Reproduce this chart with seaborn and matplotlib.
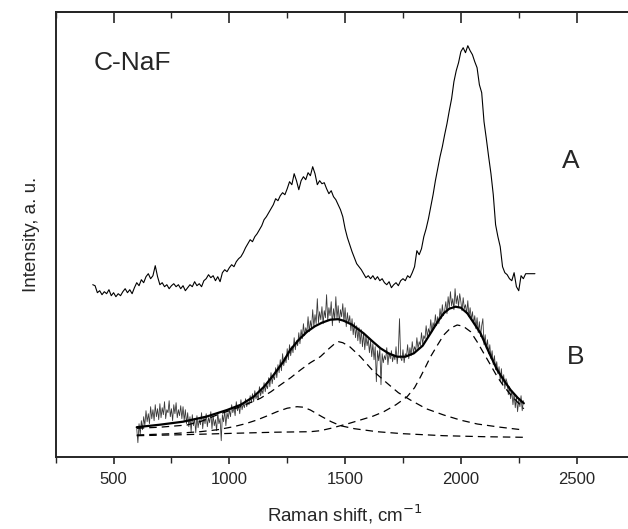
import matplotlib
matplotlib.use("Agg")
import matplotlib.pyplot as plt
import seaborn as sns
import numpy as np

# ---- Spectrum A (raw, offset upward), 410..2320 cm-1 step 10 ----
a_shift = list(range(410, 2330, 10))
a_int = [172, 171, 164, 166, 162, 165, 163, 167, 161, 164,
         160, 163, 161, 165, 168, 164, 167, 163, 169, 174,
         171, 177, 174, 180, 183, 178, 181, 191, 180, 172,
         174, 170, 172, 168, 171, 173, 170, 172, 168, 171,
         166, 169, 172, 170, 175, 171, 173, 170, 176, 178,
         182, 179, 181, 176, 180, 175, 184, 187, 185, 189,
         192, 190, 195, 198, 200, 204, 209, 213, 217, 215,
         220, 223, 227, 231, 237, 240, 244, 248, 252, 258,
         256, 261, 264, 262, 268, 275, 272, 283, 276, 267,
         276, 280, 277, 284, 281, 290, 283, 272, 276, 273,
         274, 268, 263, 266, 260, 257, 252, 247, 240, 228,
         219, 212, 205, 199, 193, 190, 187, 183, 179, 181,
         178, 181, 177, 180, 176, 178, 174, 172, 175, 169,
         172, 174, 171, 176, 178, 176, 181, 179, 184, 190,
         206, 202, 208, 220, 228, 238, 250, 262, 276, 288,
         300, 310, 322, 333, 346, 358, 375, 386, 394, 405,
         409, 404, 411, 406, 402, 395, 389, 372, 364, 335,
         318, 300, 283, 262, 232, 220, 210, 190, 184, 182,
         178, 176, 184, 170, 166, 181, 178, 183, 183, 183,
         183, 183]

# ---- Spectrum B (raw), 600..2270 cm-1 step 5 ----
b_shift = list(range(600, 2275, 5))
b_int = [28, 14, 33, 22, 36, 27, 40, 31, 46, 35, 43, 33, 50, 38, 47, 36, 52, 40, 48, 37,
         53, 39, 49, 42, 55, 38, 47, 44, 56, 40, 48, 36, 52, 43, 54, 39, 47, 41, 51, 38,
         50, 36, 47, 33, 44, 30, 40, 25, 42, 31, 38, 24, 41, 29, 37, 32, 44, 28, 40, 33,
         43, 30, 39, 34, 45, 28, 41, 31, 37, 26, 44, 33, 38, 16, 42, 35, 46, 31, 44, 38,
         47, 40, 52, 44, 49, 41, 55, 46, 51, 43, 57, 47, 53, 49, 58, 50, 55, 52, 61, 54,
         63, 55, 66, 58, 62, 57, 70, 61, 67, 63, 74, 65, 72, 68, 79, 70, 84, 73, 81, 77,
         89, 79, 92, 84, 97, 86, 103, 91, 99, 94, 108, 97, 112, 101, 110, 104, 119, 107, 116, 111,
         124, 113, 127, 118, 133, 121, 129, 124, 140, 125, 136, 128, 147, 130, 142, 133, 158, 134, 145, 137,
         150, 133, 146, 139, 162, 136, 149, 141, 155, 131, 148, 137, 160, 138, 151, 134, 147, 140, 153, 135,
         149, 130, 144, 133, 141, 126, 138, 122, 134, 119, 131, 116, 129, 113, 127, 110, 124, 107, 121, 111,
         118, 104, 116, 100, 113, 97, 110, 75, 106, 96, 108, 72, 103, 94, 101, 97, 109, 92, 104, 98,
         106, 95, 102, 97, 110, 93, 105, 138, 99, 96, 107, 94, 103, 100, 112, 98, 109, 101, 115, 104,
         110, 106, 119, 108, 115, 111, 124, 113, 121, 118, 131, 120, 128, 123, 137, 125, 134, 129, 142, 131,
         140, 133, 148, 138, 152, 141, 146, 155, 143, 160, 149, 165, 151, 158, 147, 168, 153, 161, 150, 163,
         155, 146, 159, 148, 152, 143, 156, 140, 149, 137, 145, 133, 141, 128, 139, 124, 135, 120, 131, 138,
         112, 122, 108, 117, 103, 112, 98, 106, 92, 101, 87, 95, 83, 90, 76, 88, 72, 82, 68, 78,
         74, 62, 70, 58, 66, 52, 63, 49, 60, 45, 57, 50, 61, 46, 56]

# ---- Fit (solid) ----
fit_shift = [600, 700, 800, 900, 990, 1050, 1105, 1150, 1191, 1230, 1263, 1300, 1336,
             1370, 1400, 1436, 1470, 1494, 1530, 1580, 1620, 1653, 1690, 1725, 1760,
             1797, 1835, 1869, 1900, 1926, 1950, 1977, 2000, 2028, 2055, 2085, 2120,
             2157, 2190, 2215, 2245, 2272]
fit_int = [29.5, 32, 35, 40, 46.7, 52, 60, 70, 81.7, 94, 106.7, 117, 125,
           130.5, 134, 137, 137.5, 136, 132, 123.4, 115, 108.4, 103, 100, 100,
           103.4, 111, 123.4, 135, 143.4, 148, 150, 149, 143.4, 134, 123.4, 105,
           86.7, 75, 66.7, 59, 53.4]

# ---- Components (dashed) ----
c1_shift = [600, 700, 817, 880, 946, 1000, 1047, 1090, 1134, 1180, 1220, 1265, 1307,
            1350, 1393, 1430, 1455, 1472, 1490, 1520, 1566, 1620, 1682, 1730, 1782,
            1850, 1926, 2000, 2071, 2170, 2272]
c1_int = [28.4, 29.5, 31.7, 35.5, 41.7, 46, 50, 54, 58.4, 65, 71.7, 79, 86.7,
          94, 100, 108, 113, 115, 114, 110, 100, 86, 73.4, 64, 56.7,
          48, 41.7, 36.5, 32.7, 29.5, 26.7]

c2_shift = [600, 750, 874, 950, 1018, 1070, 1119, 1160, 1206, 1250, 1292, 1320, 1350,
            1400, 1440, 1480, 1540, 1638, 1750, 1926, 2100, 2272]
c2_int = [21.7, 23, 25, 27, 30, 33, 36.7, 40.5, 45, 48.5, 50, 49.5, 46.7,
          40, 35, 31, 28, 25, 23, 21, 20, 19.4]

c3_shift = [600, 800, 1018, 1200, 1350, 1393, 1440, 1480, 1520, 1566, 1620, 1667, 1720,
            1768, 1800, 1826, 1850, 1869, 1900, 1926, 1955, 1984, 2010, 2042, 2070,
            2099, 2130, 2157, 2185, 2215, 2245, 2272]
c3_int = [21, 22, 23.4, 24.5, 25, 26, 28.5, 31, 33.5, 36.7, 40.5, 45, 52,
          60, 69, 80, 91, 100, 112, 121.7, 128.5, 131.7, 130.5, 125, 115,
          103.4, 91, 80, 70.5, 62, 54.5, 48]

sns.set_style("ticks")
plt.rcParams["font.family"] = ["Liberation Sans", "DejaVu Sans"]

fig = plt.figure(figsize=(6.28, 5.29), dpi=100)
ax = fig.add_axes([55.7 / 628, 1 - 456.7 / 529, (634.5 - 55.7) / 628, 445 / 529])

sns.lineplot(x=b_shift, y=b_int, ax=ax, color="#3a3a3a", linewidth=0.6)
sns.lineplot(x=a_shift, y=a_int, ax=ax, color="black", linewidth=0.8)
for xs, ys in [(c1_shift, c1_int), (c2_shift, c2_int), (c3_shift, c3_int)]:
    sns.lineplot(x=xs, y=ys, ax=ax, color="black", linewidth=0.9,
                 linestyle=(0, (6, 4)))
sns.lineplot(x=fit_shift, y=fit_int, ax=ax, color="black", linewidth=1.6)

ax.set_xlim(250, 2750)
ax.set_ylim(0, 445)
ax.set_xticks([500, 1000, 1500, 2000, 2500])
ax.set_xticks(np.arange(250, 2751, 250), minor=True)
ax.set_yticks([])
ax.tick_params(axis="x", which="major", direction="out", length=5, width=1.2,
               labelsize=12, pad=6)
ax.tick_params(axis="x", which="minor", direction="out", length=4, width=1.0)
for s in ["left", "bottom", "top"]:
    ax.spines[s].set_visible(True)
    ax.spines[s].set_linewidth(1.4)
ax.spines["right"].set_visible(False)

sec = ax.secondary_xaxis("top")
sec.set_xticks([500, 1000, 1500, 2000, 2500])
sec.set_xticks(np.arange(250, 2751, 250), minor=True)
sec.tick_params(axis="x", which="major", direction="in", length=8, width=1.2,
                labeltop=False)
sec.tick_params(axis="x", which="minor", direction="in", length=4, width=1.0)
sec.spines["top"].set_linewidth(1.4)

ax.set_xlabel("Raman shift, cm$^{-1}$", fontsize=13.5, labelpad=11)
ax.set_ylabel("Intensity, a. u.", fontsize=13.5, labelpad=11)

ax.text(0.065, 0.885, "C-NaF", transform=ax.transAxes, fontsize=19, va="center", ha="left")
ax.text(0.89, 0.665, "A", transform=ax.transAxes, fontsize=19, va="center", ha="center")
ax.text(0.898, 0.225, "B", transform=ax.transAxes, fontsize=19, va="center", ha="center")

fig.savefig("out.png", dpi=100)
